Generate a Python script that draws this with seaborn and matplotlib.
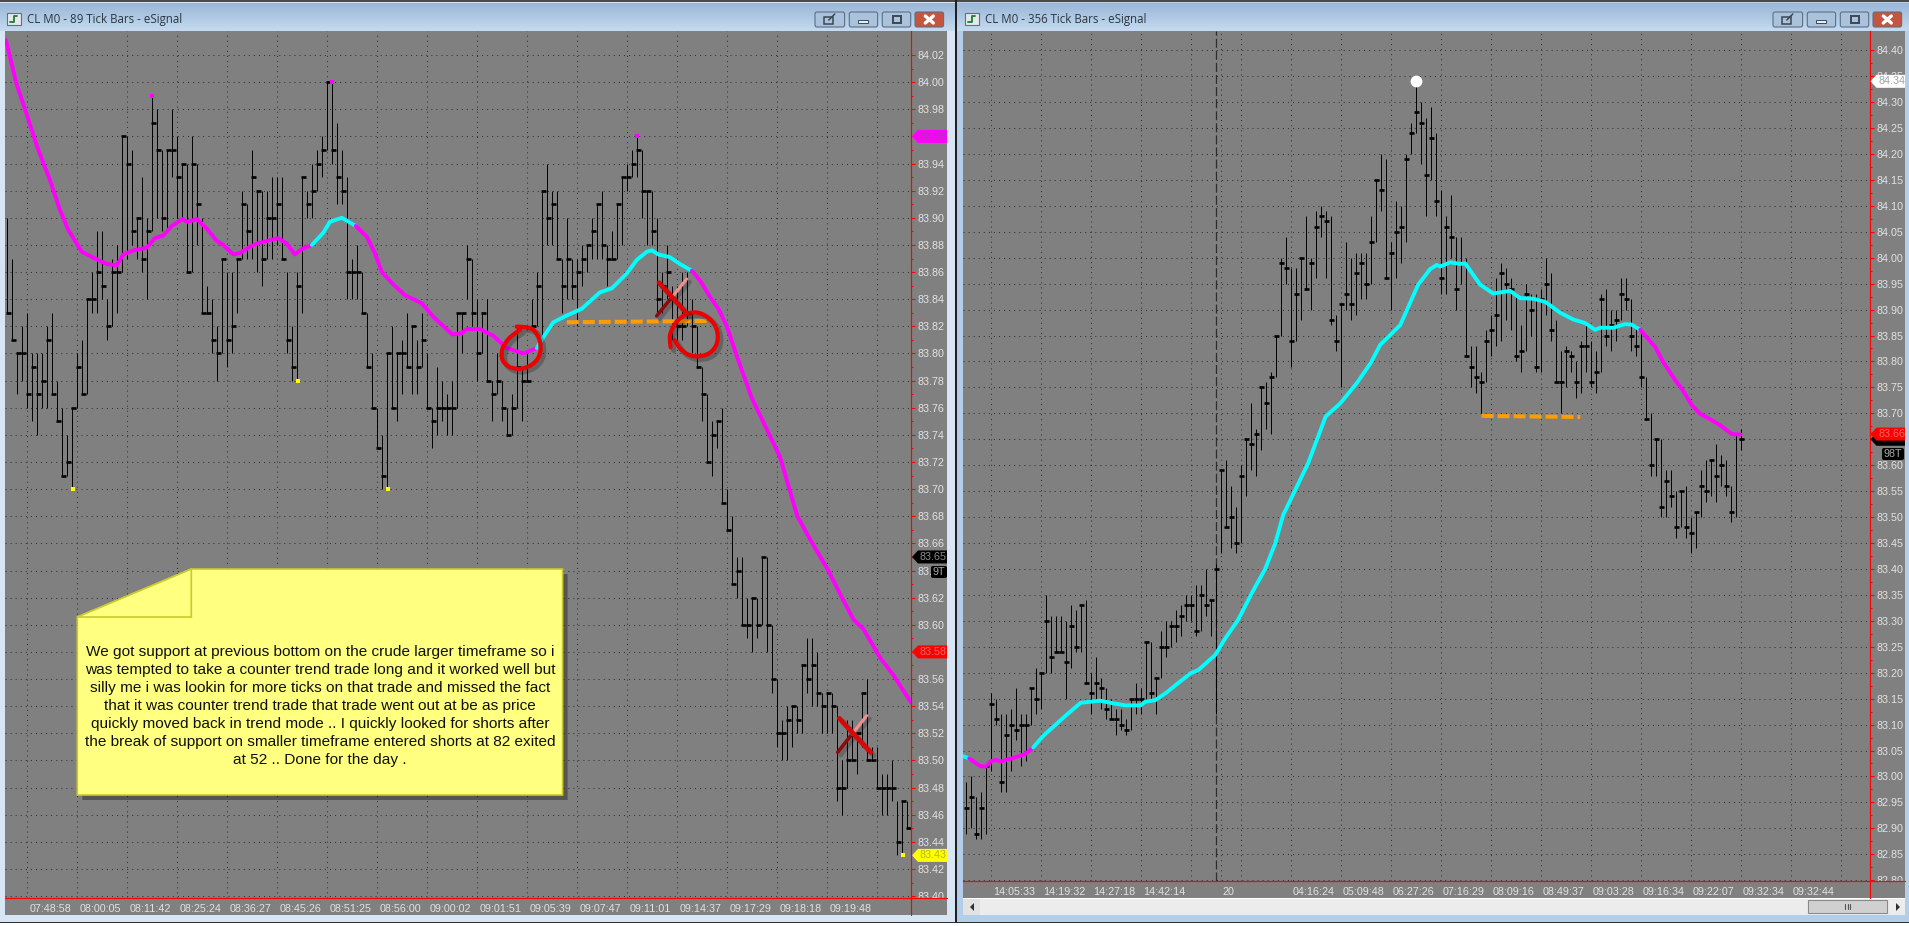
import numpy as np
import pandas as pd
import seaborn as sns
import matplotlib.pyplot as plt
from matplotlib.patches import Polygon, Rectangle, FancyBboxPatch, PathPatch
from matplotlib.path import Path
from matplotlib.transforms import Bbox, ScaledTranslation

W, H = 1909, 926

# left chart, 89 tick bars
left_high = [83.90,83.87,83.80,83.82,83.83,83.80,83.80,83.80,83.82,83.83,
             83.78,83.76,83.74,83.76,83.80,83.81,83.84,83.86,83.89,83.89,
             83.84,83.87,83.88,83.96,83.96,83.95,83.90,83.93,83.90,83.99,
             83.98,83.95,83.95,83.98,83.96,83.94,83.94,83.96,83.94,83.90,
             83.85,83.84,83.82,83.87,83.86,83.86,83.87,83.92,83.91,83.95,
             83.92,83.92,83.92,83.93,83.93,83.93,83.86,83.82,83.86,83.93,
             83.92,83.94,83.95,83.96,84.00,84.00,83.97,83.95,83.93,83.87,
             83.88,83.86,83.83,83.80,83.76,83.74,83.80,83.82,83.80,83.81,
             83.83,83.82,83.81,83.83,83.80,83.76,83.79,83.78,83.77,83.78,
             83.83,83.83,83.88,83.87,83.84,83.83,83.84,83.78,83.80,83.78,
             83.76,83.77,83.82,83.79,83.80,83.84,83.86,83.92,83.94,83.92,
             83.92,83.87,83.90,83.87,83.87,83.88,83.88,83.90,83.91,83.92,
             83.88,83.89,83.91,83.93,83.94,83.95,83.96,83.95,83.92,83.92,
             83.90,83.86,83.88,83.85,83.85,83.86,83.86,83.84,83.82,83.79,
             83.77,83.75,83.75,83.76,83.70,83.68,83.65,83.65,83.62,83.62,
             83.62,83.65,83.65,83.60,83.56,83.53,83.54,83.54,83.54,83.57,
             83.59,83.59,83.58,83.55,83.55,83.55,83.54,83.50,83.53,83.53,
             83.52,83.55,83.56,83.51,83.51,83.49,83.49,83.50,83.47,83.47,
             83.47]
left_low = [83.83,83.81,83.77,83.78,83.76,83.75,83.74,83.76,83.76,83.77,
            83.75,83.71,83.71,83.70,83.76,83.77,83.77,83.83,83.83,83.84,
            83.81,83.82,83.83,83.86,83.87,83.88,83.87,83.86,83.84,83.89,
            83.90,83.89,83.89,83.93,83.90,83.90,83.86,83.86,83.88,83.83,
            83.83,83.80,83.78,83.80,83.79,83.80,83.83,83.87,83.87,83.87,
            83.86,83.85,83.87,83.87,83.88,83.87,83.80,83.78,83.78,83.83,
            83.90,83.90,83.92,83.93,83.95,83.94,83.91,83.91,83.84,83.84,
            83.84,83.83,83.79,83.76,83.73,83.70,83.70,83.76,83.75,83.77,
            83.79,83.77,83.77,83.79,83.76,83.73,83.74,83.75,83.74,83.74,
            83.76,83.80,83.84,83.82,83.78,83.80,83.78,83.75,83.77,83.75,
            83.74,83.74,83.76,83.75,83.78,83.82,83.82,83.81,83.88,83.88,
            83.87,83.83,83.84,83.84,83.82,83.85,83.86,83.87,83.87,83.87,
            83.85,83.87,83.87,83.88,83.92,83.93,83.93,83.90,83.88,83.88,
            83.83,83.83,83.84,83.81,83.81,83.81,83.82,83.80,83.79,83.75,
            83.72,83.71,83.73,83.69,83.67,83.63,83.62,83.60,83.59,83.58,
            83.59,83.60,83.58,83.55,83.51,83.50,83.50,83.51,83.52,83.52,
            83.55,83.54,83.54,83.52,83.52,83.52,83.47,83.46,83.48,83.50,
            83.49,83.51,83.50,83.50,83.48,83.46,83.46,83.47,83.43,83.43,
            83.45]
left_close = [83.83,83.81,83.80,83.80,83.77,83.79,83.77,83.78,83.81,83.77,
              83.75,83.71,83.72,83.76,83.79,83.77,83.84,83.84,83.86,83.85,
              83.82,83.86,83.86,83.96,83.94,83.89,83.90,83.87,83.89,83.97,
              83.95,83.90,83.95,83.95,83.93,83.94,83.86,83.94,83.91,83.83,
              83.83,83.81,83.80,83.87,83.81,83.82,83.87,83.91,83.89,83.93,
              83.92,83.87,83.90,83.90,83.91,83.87,83.81,83.79,83.85,83.93,
              83.91,83.92,83.94,83.95,84.00,83.95,83.93,83.92,83.86,83.86,
              83.86,83.83,83.79,83.76,83.73,83.71,83.80,83.76,83.80,83.80,
              83.79,83.82,83.79,83.81,83.76,83.75,83.76,83.76,83.76,83.76,
              83.83,83.83,83.87,83.83,83.80,83.83,83.78,83.77,83.78,83.76,
              83.74,83.76,83.79,83.78,83.78,83.82,83.85,83.92,83.90,83.91,
              83.87,83.85,83.87,83.85,83.86,83.87,83.88,83.89,83.91,83.88,
              83.87,83.87,83.91,83.93,83.93,83.94,83.95,83.92,83.92,83.89,
              83.84,83.85,83.86,83.84,83.82,83.82,83.83,83.82,83.79,83.77,
              83.72,83.74,83.75,83.69,83.67,83.63,83.64,83.60,83.60,83.62,
              83.60,83.65,83.60,83.56,83.52,83.52,83.53,83.54,83.53,83.57,
              83.56,83.57,83.55,83.54,83.55,83.54,83.48,83.48,83.50,83.50,
              83.52,83.55,83.50,83.50,83.48,83.48,83.48,83.48,83.44,83.47,
              83.45]

left_ma_x = [-0.3,1.9,3.9,5.9,8.5,10.5,12.2,14.9,17.5,19.9,21.9,23.2,25.2,27.9,29.5,31.2,
             32.9,35.0,36.0,37.9,39.9,41.9,43.2,45.2,46.5,48.2,49.9,54.2,55.9,57.5,58.9,60.9,
             63.2,64.5,66.9,69.7,71.9,73.5,74.9,76.9,79.5,82.9,85.2,89.0,90.9,91.9,94.5,97.2,
             99.9,103.2,105.9,107.2,109.2,111.9,114.9,118.5,120.9,123.9,125.9,127.9,128.9,130.2,
             132.5,134.5,136.9,138.5,140.5,142.2,143.9,145.9,148.9,154.5,158.0,160.7,164.2,
             167.2,169.2,171.2,174.5,177.2,180.7]
left_ma_y = [84.031,83.998,83.976,83.953,83.928,83.906,83.891,83.875,83.870,83.866,83.865,83.873,
             83.876,83.878,83.885,83.887,83.894,83.899,83.897,83.899,83.892,83.883,83.880,83.873,
             83.874,83.878,83.881,83.885,83.881,83.873,83.877,83.880,83.889,83.897,83.900,83.894,
             83.886,83.874,83.860,83.852,83.843,83.837,83.827,83.814,83.815,83.818,83.818,83.813,
             83.804,83.800,83.804,83.812,83.823,83.828,83.833,83.845,83.848,83.859,83.869,83.875,
             83.876,83.873,83.871,83.866,83.861,83.854,83.842,83.833,83.820,83.798,83.767,83.724,
             83.680,83.662,83.640,83.618,83.604,83.597,83.576,83.563,83.543]
left_ma_turns = [60.9, 69.7, 105.9, 136.9]

left_peak_x = [29, 65, 126]
left_peak_y = [83.99, 84.00, 83.96]
left_trough_x = [13, 58, 76, 179]
left_trough_y = [83.70, 83.78, 83.70, 83.43]
left_level_x = [111.9, 141.2]
left_level_y = [83.823, 83.824]

left_price_ticks = [round(83.40 + 0.02 * k, 2) for k in range(32)]
left_time_ticks = [4 + 10 * k for k in range(18)]
left_time_labels = ["07:48:58", "08:00:05", "08:11:42", "08:25:24", "08:36:27", "08:45:26",
                    "08:51:25", "08:56:00", "09:00:02", "09:01:51", "09:05:39", "09:07:47",
                    "09:11:01", "09:14:37", "09:17:29", "09:18:18", "09:19:48", ""]

# right chart, 356 tick bars
right_high = [82.99,83.00,82.96,82.97,83.02,83.16,83.15,83.12,83.12,83.13,
              83.17,83.12,83.12,83.17,83.21,83.20,83.35,83.31,83.31,83.31,
              83.30,83.33,83.32,83.33,83.34,83.20,83.23,83.19,83.17,83.15,
              83.13,83.13,83.11,83.15,83.18,83.17,83.26,83.26,83.19,83.28,
              83.30,83.30,83.32,83.33,83.35,83.35,83.37,83.37,83.40,83.34,
              83.41,83.59,83.61,83.56,83.52,83.60,83.65,83.72,83.67,83.75,
              83.76,83.78,83.85,84.00,84.04,83.98,83.98,84.00,84.08,84.00,
              84.09,84.10,84.09,84.08,83.89,83.91,84.03,84.00,84.01,84.01,
              84.01,84.08,84.15,84.20,84.19,84.03,84.11,84.10,84.20,84.26,
              84.34,84.30,84.27,84.29,84.24,84.13,84.08,84.12,84.04,84.04,
              84.00,83.83,83.83,83.78,83.86,83.89,83.96,83.99,83.98,83.96,
              83.93,83.87,83.95,83.93,83.93,83.94,84.00,83.97,83.88,83.82,
              83.83,83.82,83.80,83.84,83.87,83.84,83.82,83.93,83.94,83.90,
              83.90,83.96,83.96,83.92,83.87,83.86,83.77,83.70,83.65,83.65,
              83.59,83.59,83.55,83.55,83.56,83.50,83.51,83.59,83.61,83.61,
              83.64,83.62,83.61,83.56,83.66,83.67]
right_low = [82.89,82.90,82.88,82.88,82.89,83.01,83.10,82.97,82.97,83.01,
             83.07,83.02,83.03,83.10,83.12,83.13,83.20,83.20,83.24,83.24,
             83.15,83.21,83.24,83.24,83.18,83.12,83.15,83.13,83.11,83.11,
             83.08,83.09,83.08,83.09,83.12,83.12,83.15,83.15,83.12,83.19,
             83.23,83.25,83.26,83.27,83.30,83.30,83.27,83.28,83.31,83.27,
             83.12,83.43,83.48,83.44,83.43,83.45,83.54,83.59,83.58,83.63,
             83.67,83.66,83.77,83.85,83.95,83.79,83.84,83.88,83.94,83.90,
             83.96,84.04,83.96,83.87,83.82,83.75,83.90,83.88,83.89,83.92,
             83.92,83.95,84.03,84.09,83.96,83.90,83.96,83.99,84.03,84.20,
             84.24,84.18,84.08,84.15,84.08,83.93,83.93,84.00,83.90,83.95,
             83.81,83.75,83.74,83.70,83.76,83.81,83.83,83.84,83.88,83.86,
             83.80,83.78,83.82,83.85,83.78,83.78,83.89,83.84,83.76,83.70,
             83.75,83.78,83.73,83.74,83.78,83.75,83.74,83.78,83.83,83.82,
             83.84,83.88,83.90,83.82,83.81,83.75,83.69,83.58,83.58,83.50,
             83.50,83.52,83.46,83.48,83.46,83.43,83.44,83.50,83.53,83.54,
             83.53,83.56,83.54,83.49,83.50,83.63]
right_close = [82.94,82.96,82.89,82.94,83.02,83.14,83.11,82.99,83.08,83.10,
               83.09,83.10,83.10,83.17,83.15,83.20,83.30,83.23,83.24,83.24,
               83.22,83.29,83.25,83.33,83.18,83.16,83.18,83.17,83.13,83.11,
               83.11,83.10,83.09,83.15,83.15,83.15,83.26,83.16,83.19,83.25,
               83.25,83.29,83.29,83.31,83.33,83.33,83.28,83.35,83.33,83.34,
               83.40,83.59,83.48,83.50,83.45,83.58,83.65,83.64,83.66,83.75,
               83.72,83.77,83.85,83.99,83.98,83.84,83.93,84.00,83.94,83.99,
               84.06,84.08,84.07,83.88,83.84,83.91,83.93,83.91,83.97,83.99,
               83.95,84.03,84.15,84.13,83.96,84.01,84.05,84.06,84.19,84.24,
               84.28,84.26,84.16,84.23,84.11,83.96,84.06,84.04,83.94,83.99,
               83.81,83.79,83.77,83.76,83.84,83.86,83.89,83.97,83.95,83.94,
               83.81,83.82,83.93,83.90,83.79,83.92,83.95,83.86,83.76,83.76,
               83.82,83.81,83.76,83.83,83.83,83.76,83.78,83.92,83.85,83.87,
               83.88,83.93,83.92,83.85,83.83,83.77,83.69,83.60,83.65,83.52,
               83.57,83.54,83.48,83.55,83.48,83.47,83.51,83.56,83.55,83.61,
               83.58,83.60,83.56,83.51,83.66,83.65]

right_ma_x = [-0.5,0.7,2.9,4,5,6,7,9.2,11.9,13.5,15.5,17.9,20.2,23,26.9,29.5,31.9,35,35.9,37.9,
              40.2,42.5,45,46.5,49.9,51.9,54.5,57.2,59.9,61.9,63.5,65.9,68.5,72,74.9,78.2,81,
              82.9,86.9,90.5,92.9,94.2,94.9,96.9,98.9,99.9,102.9,105.5,108.9,110.9,113.5,115.9,
              118.9,121.5,123.9,125.9,126.9,129.5,131.9,133.2,134.9,137.9,139.5,141.9,143.2,
              145.2,146.9,149.2,151.2,153.2,155]
right_ma_y = [83.039,83.035,83.020,83.019,83.029,83.032,83.029,83.035,83.043,83.056,83.078,83.099,
              83.119,83.142,83.146,83.141,83.137,83.137,83.144,83.147,83.162,83.180,83.199,83.205,
              83.234,83.266,83.302,83.353,83.400,83.449,83.504,83.552,83.604,83.694,83.719,83.758,
              83.797,83.832,83.870,83.948,83.978,83.986,83.983,83.991,83.988,83.989,83.948,83.931,
              83.936,83.922,83.921,83.915,83.894,83.881,83.874,83.861,83.865,83.865,83.872,83.871,
              83.861,83.828,83.799,83.764,83.748,83.716,83.699,83.687,83.675,83.660,83.659]
right_ma_turns = [0.7, 13.5, 134.9]

right_peak_x = [90]
right_peak_y = [84.34]
right_level_x = [103.2, 122.9]
right_level_y = [83.695, 83.693]
right_session_x = 50

right_price_ticks = [round(82.80 + 0.05 * k, 2) for k in range(33)]
right_time_ticks = [5, 15, 25, 35, 45, 51, 55, 65, 75, 85, 95, 105, 115, 125, 135, 145, 155, 165, 175]
right_time_labels = ["14:05:33", "14:19:32", "14:27:18", "14:42:14", "", "20", "", "04:16:24",
                     "05:09:48", "06:27:26", "07:16:29", "08:09:16", "08:49:37", "09:03:28",
                     "09:16:34", "09:22:07", "09:32:34", "09:32:44", ""]

note_lines = ["We got support at previous bottom on the crude larger timeframe so i",
              "was tempted to take a counter trend trade long and it worked well but",
              "silly me i was lookin for more ticks on that trade and missed the fact",
              "that it was counter trend trade that trade went out at be as price",
              "quickly moved back in trend mode .. I quickly looked for shorts after",
              "the break of support on smaller timeframe entered shorts at 82 exited",
              "at 52 .. Done for the day ."]

MAGENTA, CYAN = "#ff00ff", "#00ffff"
GRAY = "#808080"
LABEL = "#e2e2e2"
ORANGE = "#ff9c00"

sns.set_theme(style="white")
plt.rcParams["font.family"] = ["Liberation Sans", "DejaVu Sans"]
plt.rcParams["lines.scale_dashes"] = False

fig = plt.figure(figsize=(W / 100, H / 100), dpi=100, facecolor="white")


def size_for(text, width, **kw):
    # font size that gives the wanted width in pixels
    t = fig.text(0, 0, text, fontsize=10, **kw)
    got = t.get_window_extent(fig.canvas.get_renderer()).width
    t.remove()
    return 10 * width / got


AXIS_SIZE = size_for("07:48:58", 42)
NOTE_SIZE = size_for(note_lines[5], 475)
TITLE_SIZE = size_for("CL M0 - 356 Tick Bars - eSignal", 161.7, family="Open Sans")


def px_axes(x0, y0, x1, y1, **kw):
    return fig.add_axes([x0 / W, 1 - y1 / H, (x1 - x0) / W, (y1 - y0) / H], **kw)


def rect(ax, x0, y0, x1, y1, fc, **kw):
    ax.add_patch(Rectangle((x0, y0), x1 - x0, y1 - y0, fc=fc, ec="none", **kw))


# window frames behind the charts
bg = px_axes(0, 0, W, H, zorder=0)
bg.set_xlim(0, W)
bg.set_ylim(H, 0)
bg.axis("off")
rect(bg, 0, 0, 955, 922, "#d8e6f4")
rect(bg, 957, 0, W, 922, "#b4cee9")
title_grad = np.linspace(0, 1, 28).reshape(-1, 1)
for x0, x1 in [(0, 955), (957, W)]:
    bg.imshow(title_grad, extent=(x0, x1, 31, 3), aspect="auto", cmap=sns.blend_palette(["#9ab7d7", "#c4daf0"], as_cmap=True), zorder=1)
bg.set_xlim(0, W)
bg.set_ylim(H, 0)
rect(bg, 0, 0, W, 2, "#4a4a4a", zorder=3)
rect(bg, 955, 0, 957, 923, "#202020", zorder=3)
rect(bg, 0, 921.5, W, 923, "#303030", zorder=3)
rect(bg, 5, 31, 947, 915, GRAY, zorder=2)
rect(bg, 963, 31, 1905, 898, GRAY, zorder=2)
rect(bg, 963, 898, 1905, 915, "#ececec", zorder=2)
rect(bg, 963, 898, 1905, 899, "#ffffff", zorder=3)

# scrollbar of the right window
rect(bg, 963, 899, 980, 915, "#e2e2e2", zorder=3)
bg.add_patch(Polygon([[974, 903], [974, 911], [970, 907]], fc="#303030", ec="none", zorder=4))
bg.add_patch(Polygon([[1896, 903], [1896, 911], [1900, 907]], fc="#303030", ec="none", zorder=4))
rect(bg, 1808, 900, 1887, 913, "#d0d0d0", zorder=3)
bg.add_patch(Rectangle((1808, 900), 79, 13, fc="none", ec="#8a8a8a", lw=0.8, zorder=4))
for gx in (1845, 1847.5, 1850):
    bg.plot([gx, gx], [904, 909], color="#555555", lw=0.8, zorder=5)

# title bars
for tx, title in [(27, "CL M0 - 89 Tick Bars - eSignal"), (985, "CL M0 - 356 Tick Bars - eSignal")]:
    bg.text(tx, 20, title, fontsize=TITLE_SIZE, family="Open Sans", color="#2c3640", va="center", ha="left", zorder=6)
    rect(bg, tx - 20, 13, tx - 6, 25, "#e4e8ec", zorder=5)
    bg.add_patch(Rectangle((tx - 20, 13), 14, 12, fc="none", ec="#60707c", lw=0.8, zorder=6))
    bg.plot([tx - 17, tx - 13, tx - 13, tx - 10], [22, 22, 16, 16], color="#1f7a30", lw=1.3, zorder=6)

for off in (0, -958):
    for k, (x0, x1) in enumerate([(1772, 1803.6), (1806.3, 1836.6), (1839.3, 1869.7), (1872, 1902.6)]):
        fc = "#c4553f" if k == 3 else "#abc2dd"
        bg.add_patch(FancyBboxPatch((x0 + off + 1, 12), x1 - x0 - 2, 15, boxstyle="round,pad=0,rounding_size=2",
                                    fc=fc, ec="#5d6f86", lw=0.8, zorder=5))
        cx = (x0 + x1) / 2 + off
        if k == 0:
            bg.add_patch(Rectangle((cx - 6, 17), 9, 7, fc="none", ec="#3c4856", lw=1.1, zorder=6))
            bg.plot([cx - 1, cx + 5], [20, 14], color="#3c4856", lw=1.1, zorder=6)
        elif k == 1:
            rect(bg, cx - 5, 20, cx + 5, 23, "#e8eef5", zorder=6)
            bg.add_patch(Rectangle((cx - 5, 20), 10, 3, fc="none", ec="#3c4856", lw=0.7, zorder=6))
        elif k == 2:
            bg.add_patch(Rectangle((cx - 4, 16), 8, 7, fc="none", ec="#3c4856", lw=1.4, zorder=6))
        else:
            bg.plot([cx - 4, cx + 4], [16, 23], color="white", lw=2.4, zorder=6)
            bg.plot([cx - 4, cx + 4], [23, 16], color="white", lw=2.4, zorder=6)


def draw_chart(box, xlim, ylim, high, low, close, ma_x, ma_y, ma_turns, first_color,
               price_ticks, time_ticks, time_labels, minor_step):
    ax = px_axes(*box, zorder=1)
    ax.patch.set_alpha(0)
    ax.set_xlim(*xlim)
    ax.set_ylim(*ylim)

    bars = pd.DataFrame({"bar": np.arange(len(high)), "high": high, "low": low, "close": close})
    ax.vlines(bars["bar"], bars["low"], bars["high"], color="black", lw=0.7, zorder=3)
    ax.hlines(bars["close"], bars["bar"] - 0.27, bars["bar"] + 0.73, color="black", lw=1.9, zorder=3)

    # moving average, colour flips at the turning bars
    ma = pd.DataFrame({"x": ma_x, "y": ma_y})
    edges = [ma["x"].min()] + list(ma_turns) + [ma["x"].max()]
    colors = [first_color, MAGENTA if first_color == CYAN else CYAN]
    for k in range(len(edges) - 1):
        seg = ma[(ma["x"] >= edges[k]) & (ma["x"] <= edges[k + 1])]
        sns.lineplot(data=seg, x="x", y="y", color=colors[k % 2], lw=2.8, sort=False, estimator=None,
                     ax=ax, zorder=4, legend=False)

    ax.set_xlabel("")
    ax.set_ylabel("")
    ax.yaxis.tick_right()
    ax.set_yticks(price_ticks)
    ax.set_yticklabels([f"{p:.2f}" for p in price_ticks])
    ax.set_yticks(np.arange(price_ticks[0] + minor_step, price_ticks[-1], 2 * minor_step), minor=True)
    ax.set_xticks(time_ticks)
    ax.set_xticklabels(time_labels, ha="left")
    ax.grid(True, which="major", color="#333333", lw=0.75, ls=(0, (0.75, 2.9)))
    ax.set_axisbelow(True)
    ax.tick_params(axis="y", which="major", length=3, width=0.75, color="red", labelcolor=LABEL, labelsize=AXIS_SIZE, pad=1.8, right=True, left=False)
    ax.tick_params(axis="y", which="minor", length=1.6, width=0.75, color="red", right=True, left=False)
    ax.tick_params(axis="x", which="major", length=2, width=0.75, color="red", labelcolor=LABEL, labelsize=AXIS_SIZE, pad=2.5)
    for side in ("top", "left"):
        ax.spines[side].set_visible(False)
    for side in ("right", "bottom"):
        ax.spines[side].set_color("red")
        ax.spines[side].set_linewidth(0.85)

    # labels are cut where the price scale meets the time scale
    clip = Bbox([[box[2], H - box[3]], [box[2] + 60, H - box[1]]])
    for lab in ax.get_yticklabels():
        lab.set_clip_box(clip)
        lab.set_clip_on(True)
    shift = ScaledTranslation(2 / 100, 0, fig.dpi_scale_trans)
    for tick in ax.xaxis.get_major_ticks():
        tick.label1.set_transform(tick.label1.get_transform() + shift)
    return ax


left_ax = draw_chart((5, 31, 911, 898), (-0.466, 180.73), (83.3986, 84.0377), left_high, left_low, left_close,
                     left_ma_x, left_ma_y, left_ma_turns, MAGENTA, left_price_ticks, left_time_ticks,
                     left_time_labels, 0.01)
right_ax = draw_chart((963, 31, 1869.7, 881), (-0.534, 180.8), (82.7985, 84.437), right_high, right_low, right_close,
                      right_ma_x, right_ma_y, right_ma_turns, CYAN, right_price_ticks, right_time_ticks,
                      right_time_labels, 0.025)

# extreme markers
sns.scatterplot(x=left_peak_x, y=left_peak_y, color=MAGENTA, marker="s", s=9, linewidth=0, ax=left_ax, zorder=5, legend=False)
sns.scatterplot(x=np.array(left_trough_x) + 0.15, y=left_trough_y, color="#ffff00", marker="s", s=9, linewidth=0, ax=left_ax, zorder=5, legend=False)
sns.scatterplot(x=right_peak_x, y=right_peak_y, color="white", s=72, linewidth=0, ax=right_ax, zorder=5, legend=False)

# support levels and session line
for ax, lx, ly in [(left_ax, left_level_x, left_level_y), (right_ax, right_level_x, right_level_y)]:
    sns.lineplot(x=lx, y=ly, color=ORANGE, lw=2.9, ls=(0, (8.6, 2.9)), sort=False, estimator=None, ax=ax, zorder=6, legend=False)
right_ax.axvline(right_session_x, color="#2e2e2e", lw=0.9, ls=(0, (6.5, 2.2)), zorder=2)

# everything on top of the charts, in pixels
top = px_axes(0, 0, W, H, zorder=3)
top.set_xlim(0, W)
top.set_ylim(H, 0)
top.axis("off")
top.patch.set_alpha(0)

# the red scale lines run on past the plots
top.plot([911, 911], [898, 915], color="red", lw=0.85)
top.plot([1869.7, 1869.7], [881, 898], color="red", lw=0.85)
top.plot([911, 947], [898, 898], color="red", lw=0.85)
top.plot([1869.7, 1905], [881, 881], color="red", lw=0.85)


def price_px(ax, price):
    return H - ax.transData.transform((0, price))[1]


def flag(ax, price, x0, x1, fc, tc, text=True):
    y = price_px(ax, price)
    top.add_patch(Polygon([[x0, y], [x0 + 6, y - 6.5], [x1, y - 6.5], [x1, y + 6.5], [x0 + 6, y + 6.5]], fc=fc, ec="none"))
    if text:
        top.text(x0 + 8, y, f"{price:.2f}", color=tc, fontsize=AXIS_SIZE, va="center", ha="left", clip_on=True)


def tag(x0, x1, y, label):
    top.add_patch(FancyBboxPatch((x0, y - 6), x1 - x0, 12, boxstyle="round,pad=0,rounding_size=2", fc="black", ec="none"))
    top.text(x1 - 2, y, label, color="#a8a8a8", fontsize=AXIS_SIZE, va="center", ha="right")


flag(left_ax, 83.96, 912, 947, MAGENTA, "#a838a8")
flag(left_ax, 83.65, 912, 947, "black", "#8c8c8c")
tag(931, 947, 572, "9T")
flag(left_ax, 83.58, 912, 947, "#ff0000", "#e86a6a")
flag(left_ax, 83.43, 912, 947, "#ffff00", "#b4b428")
flag(right_ax, 84.34, 1870.5, 1905, "white", "#a0a0a0")
flag(right_ax, 83.65, 1870.5, 1905, "black", "#8c8c8c", text=False)
flag(right_ax, 83.66, 1870.5, 1905, "#ff0000", "#e86a6a")
tag(1882, 1904, 454, "98T")

# sticky note
note_pts = [[77.3, 617], [191.3, 569], [562.6, 569], [562.6, 795], [77.3, 795]]
top.add_patch(Polygon([[p[0] + 5, p[1] + 5] for p in note_pts], fc="black", ec="none", alpha=0.33))
top.add_patch(Polygon(note_pts, fc="#ffff80", ec="#c9c92e", lw=1.2))
top.add_patch(Polygon([[77.3, 617], [191.3, 569], [191.3, 617]], fc="#ffff80", ec="#c9c92e", lw=1.2))
for k, line in enumerate(note_lines):
    top.text(320, 651.7 + 18 * k, line, color="#101010", fontsize=NOTE_SIZE, ha="center", va="center")

RED = "#ee0000"


def curve(xs, ys, color, lw):
    # quadratic curve through the midpoints of the given points
    pts = np.column_stack([xs, ys]).astype(float)
    verts, codes = [pts[0]], [Path.MOVETO]
    for k in range(1, len(pts) - 1):
        verts += [pts[k], (pts[k] + pts[k + 1]) / 2]
        codes += [Path.CURVE3, Path.CURVE3]
    verts, codes = np.array(verts), codes
    top.add_patch(PathPatch(Path(verts + 3, codes), fc="none", ec="black", alpha=0.22, lw=lw + 0.8, capstyle="round"))
    top.add_patch(PathPatch(Path(verts, codes), fc="none", ec=color, lw=lw, capstyle="round"))


circle_a_x = [110, 150, 172, 185, 175, 140, 100, 70, 62, 75, 110, 130]
circle_a_y = [680, 680, 700, 740, 780, 805, 808, 790, 760, 725, 695, 685]
circle_b_x = [572, 568, 572, 590, 630, 670, 705, 717, 700, 660, 620, 590, 578]
circle_b_y = [742, 715, 695, 660, 635, 640, 670, 715, 755, 772, 765, 735, 705]
curve(480 + np.array(circle_a_x) / 3, 100 + np.array(circle_a_y) / 3, RED, 3.0)
curve(480 + np.array(circle_b_x) / 3, 100 + np.array(circle_b_y) / 3, RED, 3.0)


def cross(x0, y0, x1, y1, x2, y2, x3, y3):
    top.plot([x0 + 3, x1 + 3], [y0 + 3, y1 + 3], color="black", alpha=0.2, lw=4, solid_capstyle="round")
    top.plot([x3 + 3, x2 + 3], [y3 + 3, y2 + 3], color="black", alpha=0.2, lw=3, solid_capstyle="round")
    mx, my = (x2 + x3) / 2, (y2 + y3) / 2
    top.plot([x2, mx], [y2, my], color="#8c0c0c", lw=2.6, solid_capstyle="round")
    top.plot([mx, x3], [my, y3], color="#f09090", lw=2.2, solid_capstyle="round")
    top.plot([x0, x1], [y0, y1], color="#d80808", lw=3.4, solid_capstyle="round")


cross(480 + 537 / 3, 100 + 548 / 3, 480 + 620 / 3, 100 + 640 / 3, 480 + 530 / 3, 100 + 648 / 3, 480 + 620 / 3, 100 + 537 / 3)
cross(560 + 838 / 3, 540 + 535 / 3, 560 + 932 / 3, 540 + 637 / 3, 560 + 833 / 3, 540 + 637 / 3, 560 + 920 / 3, 540 + 527 / 3)

fig.savefig("out.png", dpi=100)
